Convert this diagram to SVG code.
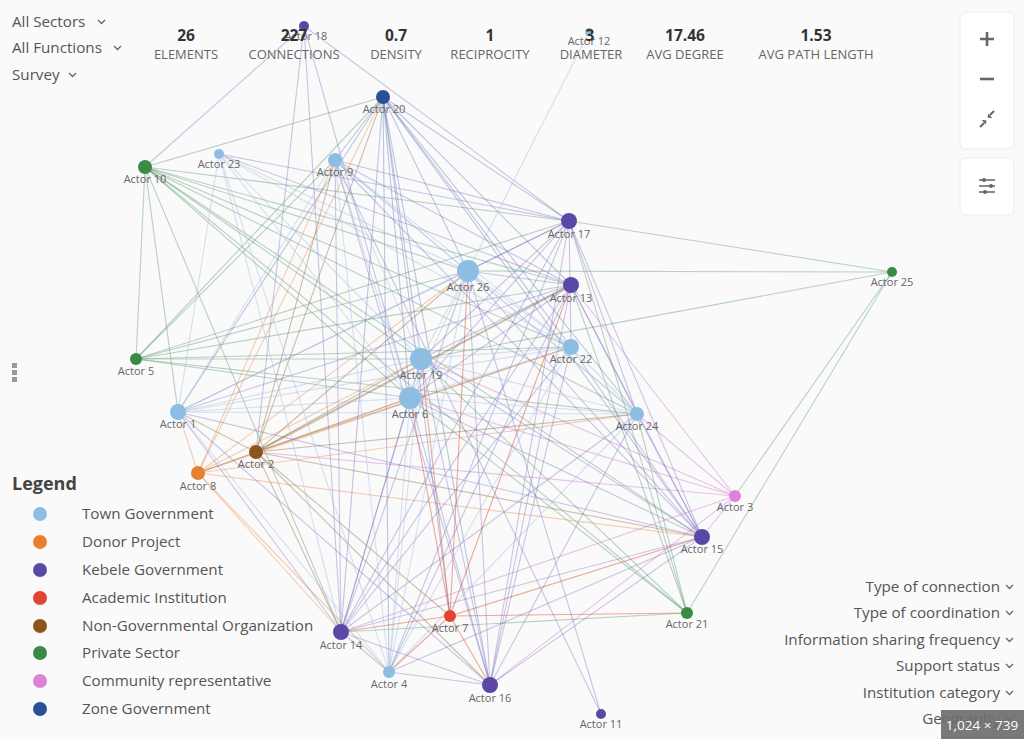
<svg xmlns="http://www.w3.org/2000/svg" width="1024" height="739" viewBox="0 0 1024 739">
<style>
.ui{font-family:"Open Sans","Liberation Sans",sans-serif;fill:#555}
.menu{font-size:15.2px}
.num{font-family:"Open Sans","Liberation Sans",sans-serif;font-size:15.5px;font-weight:700;fill:#333;text-anchor:middle}
.lbl{font-family:"Open Sans","Liberation Sans",sans-serif;font-size:13px;fill:#666;text-anchor:middle}
.nl{font-family:"Open Sans","Liberation Sans",sans-serif;font-size:11px;fill:#666;text-anchor:middle}
.chev{fill:none;stroke:#666;stroke-width:1.3}
#edges line{stroke-width:1.1;fill:none}
.tg{stroke:#a6bedf;stroke-opacity:.45}
.kg{stroke:#6b60b6;stroke-opacity:.35}
.ps{stroke:#4a9160;stroke-opacity:.38}
.dp{stroke:#e68a4a;stroke-opacity:.4}
.ngo{stroke:#8d6535;stroke-opacity:.4}
.ac{stroke:#e0553c;stroke-opacity:.5}
.cr{stroke:#d98ad9;stroke-opacity:.5}
.zg{stroke:#4a62a8;stroke-opacity:.35}
.c-tg{fill:#8dbde3}.c-dp{fill:#e8802f}.c-kg{fill:#5a48a6}.c-ac{fill:#e2452f}
.c-ngo{fill:#8a561d}.c-ps{fill:#3a8a48}.c-cr{fill:#dd82d8}.c-zg{fill:#2a4f98}
.box{fill:#fff;stroke:#ececec;stroke-width:1}
.ic{stroke:#666;stroke-width:2.6;fill:none;stroke-linecap:butt}
</style>
<rect width="1024" height="739" fill="#fafafa"/>
<g id="edges">
<!-- Actor 10 -->
<line class="ps" x1="145" y1="167" x2="136" y2="359"/>
<line class="ps" x1="145" y1="167" x2="178" y2="412"/>
<line class="ps" x1="145" y1="167" x2="383" y2="97"/>
<line class="ps" x1="145" y1="167" x2="569" y2="221"/>
<line class="ps" x1="145" y1="167" x2="571" y2="285"/>
<line class="ps" x1="145" y1="167" x2="571" y2="347"/>
<line class="ps" x1="145" y1="167" x2="468" y2="271"/>
<line class="ps" x1="145" y1="167" x2="421" y2="359"/>
<line class="ps" x1="145" y1="167" x2="637" y2="414"/>
<line class="ps" x1="145" y1="167" x2="702" y2="537"/>
<line class="ps" x1="145" y1="167" x2="687" y2="613"/>
<line class="ps" x1="145" y1="167" x2="341" y2="632"/>
<line class="ps" x1="145" y1="167" x2="410" y2="398"/>
<line class="kg" x1="304" y1="26" x2="145" y2="167"/>
<!-- Actor 5 -->
<line class="ps" x1="136" y1="359" x2="383" y2="97"/>
<line class="ps" x1="136" y1="359" x2="335" y2="160"/>
<line class="ps" x1="136" y1="359" x2="468" y2="271"/>
<line class="ps" x1="136" y1="359" x2="571" y2="285"/>
<line class="ps" x1="136" y1="359" x2="421" y2="359"/>
<line class="ps" x1="136" y1="359" x2="571" y2="347"/>
<line class="ps" x1="136" y1="359" x2="410" y2="398"/>
<line class="ps" x1="136" y1="359" x2="637" y2="414"/>
<line class="ps" x1="136" y1="359" x2="569" y2="221"/>
<!-- Actor 25 / 21 -->
<line class="ps" x1="892" y1="272" x2="569" y2="221"/>
<line class="ps" x1="892" y1="272" x2="468" y2="271"/>
<line class="ps" x1="892" y1="272" x2="735" y2="496"/>
<line class="ps" x1="892" y1="272" x2="687" y2="613"/>
<line class="ps" x1="892" y1="272" x2="421" y2="359"/>
<line class="ps" x1="687" y1="613" x2="571" y2="285"/>
<line class="ps" x1="687" y1="613" x2="410" y2="398"/>
<line class="ps" x1="687" y1="613" x2="421" y2="359"/>
<line class="ps" x1="687" y1="613" x2="569" y2="221"/>
<line class="ps" x1="687" y1="613" x2="637" y2="414"/>
<line class="ps" x1="687" y1="613" x2="341" y2="632"/>
<!-- Actor 3 -->
<line class="cr" x1="735" y1="496" x2="637" y2="414"/>
<line class="cr" x1="735" y1="496" x2="571" y2="285"/>
<line class="cr" x1="735" y1="496" x2="410" y2="398"/>
<line class="cr" x1="735" y1="496" x2="421" y2="359"/>
<line class="cr" x1="735" y1="496" x2="702" y2="537"/>
<line class="cr" x1="735" y1="496" x2="341" y2="632"/>
<line class="cr" x1="735" y1="496" x2="256" y2="452"/>
<line class="cr" x1="735" y1="496" x2="490" y2="685"/>
<!-- Actor 7 -->
<line class="ac" x1="450" y1="616" x2="410" y2="398"/>
<line class="ac" x1="450" y1="616" x2="421" y2="359"/>
<line class="ac" x1="450" y1="616" x2="468" y2="271"/>
<line class="ac" x1="450" y1="616" x2="571" y2="285"/>
<line class="ac" x1="450" y1="616" x2="490" y2="685"/>
<line class="ac" x1="450" y1="616" x2="341" y2="632"/>
<line class="ac" x1="450" y1="616" x2="389" y2="672"/>
<line class="ac" x1="450" y1="616" x2="702" y2="537"/>
<line class="ac" x1="450" y1="616" x2="687" y2="613"/>
<!-- Actor 2 -->
<line class="ngo" x1="256" y1="452" x2="571" y2="285" style="stroke-width:2"/>
<line class="ngo" x1="256" y1="452" x2="468" y2="271"/>
<line class="ngo" x1="256" y1="452" x2="421" y2="359"/>
<line class="ngo" x1="256" y1="452" x2="410" y2="398"/>
<line class="ngo" x1="256" y1="452" x2="335" y2="160"/>
<line class="ngo" x1="256" y1="452" x2="383" y2="97"/>
<line class="ngo" x1="256" y1="452" x2="341" y2="632"/>
<line class="ngo" x1="256" y1="452" x2="490" y2="685"/>
<line class="ngo" x1="256" y1="452" x2="450" y2="616"/>
<line class="ngo" x1="256" y1="452" x2="571" y2="347"/>
<line class="ngo" x1="256" y1="452" x2="637" y2="414"/>
<line class="ngo" x1="256" y1="452" x2="702" y2="537"/>
<line class="ngo" x1="256" y1="452" x2="198" y2="473"/>
<line class="ngo" x1="256" y1="452" x2="178" y2="412"/>
<line class="kg" x1="304" y1="26" x2="256" y2="452"/>
<!-- Actor 8 -->
<line class="dp" x1="198" y1="473" x2="383" y2="97"/>
<line class="dp" x1="198" y1="473" x2="335" y2="160"/>
<line class="dp" x1="198" y1="473" x2="468" y2="271"/>
<line class="dp" x1="198" y1="473" x2="421" y2="359"/>
<line class="dp" x1="198" y1="473" x2="410" y2="398"/>
<line class="dp" x1="198" y1="473" x2="178" y2="412"/>
<line class="dp" x1="198" y1="473" x2="341" y2="632"/>
<line class="dp" x1="198" y1="473" x2="389" y2="672"/>
<line class="dp" x1="198" y1="473" x2="571" y2="347"/>
<line class="dp" x1="198" y1="473" x2="702" y2="537"/>
<line class="dp" x1="198" y1="473" x2="637" y2="414"/>
<!-- Actor 20 -->
<line class="zg" x1="383" y1="97" x2="569" y2="221"/>
<line class="zg" x1="383" y1="97" x2="571" y2="285"/>
<line class="zg" x1="383" y1="97" x2="571" y2="347"/>
<line class="zg" x1="383" y1="97" x2="468" y2="271"/>
<line class="zg" x1="383" y1="97" x2="421" y2="359"/>
<line class="zg" x1="383" y1="97" x2="410" y2="398"/>
<line class="zg" x1="383" y1="97" x2="178" y2="412"/>
<line class="zg" x1="383" y1="97" x2="341" y2="632"/>
<line class="zg" x1="383" y1="97" x2="490" y2="685"/>
<line class="zg" x1="383" y1="97" x2="702" y2="537"/>
<line class="zg" x1="383" y1="97" x2="637" y2="414"/>
<line class="zg" x1="383" y1="97" x2="335" y2="160"/>
<line class="zg" x1="383" y1="97" x2="389" y2="672"/>
<line class="zg" x1="383" y1="97" x2="450" y2="616"/>
<!-- Actor 17 -->
<line class="kg" x1="569" y1="221" x2="304" y2="26"/>
<line class="kg" x1="569" y1="221" x2="335" y2="160"/>
<line class="kg" x1="569" y1="221" x2="702" y2="537"/>
<line class="kg" x1="569" y1="221" x2="490" y2="685"/>
<line class="kg" x1="569" y1="221" x2="341" y2="632"/>
<line class="kg" x1="569" y1="221" x2="178" y2="412"/>
<line class="kg" x1="569" y1="221" x2="421" y2="359"/>
<line class="kg" x1="569" y1="221" x2="410" y2="398"/>
<line class="kg" x1="569" y1="221" x2="637" y2="414"/>
<line class="kg" x1="569" y1="221" x2="389" y2="672"/>
<line class="kg" x1="569" y1="221" x2="468" y2="271"/>
<line class="kg" x1="569" y1="221" x2="571" y2="347"/>
<line class="kg" x1="569" y1="221" x2="219" y2="154"/>
<!-- Actor 13 -->
<line class="kg" x1="571" y1="285" x2="341" y2="632"/>
<line class="kg" x1="571" y1="285" x2="490" y2="685"/>
<line class="kg" x1="571" y1="285" x2="702" y2="537"/>
<line class="kg" x1="571" y1="285" x2="335" y2="160"/>
<line class="kg" x1="571" y1="285" x2="468" y2="271"/>
<line class="kg" x1="571" y1="285" x2="410" y2="398"/>
<line class="kg" x1="571" y1="285" x2="421" y2="359"/>
<line class="kg" x1="571" y1="285" x2="389" y2="672"/>
<line class="kg" x1="571" y1="285" x2="178" y2="412"/>
<line class="kg" x1="571" y1="285" x2="637" y2="414"/>
<line class="kg" x1="571" y1="285" x2="219" y2="154"/>
<!-- Actor 15 -->
<line class="kg" x1="702" y1="537" x2="341" y2="632"/>
<line class="kg" x1="702" y1="537" x2="490" y2="685"/>
<line class="kg" x1="702" y1="537" x2="410" y2="398"/>
<line class="kg" x1="702" y1="537" x2="421" y2="359"/>
<line class="kg" x1="702" y1="537" x2="468" y2="271"/>
<line class="kg" x1="702" y1="537" x2="571" y2="347"/>
<line class="kg" x1="702" y1="537" x2="637" y2="414"/>
<line class="kg" x1="702" y1="537" x2="335" y2="160"/>
<line class="kg" x1="702" y1="537" x2="178" y2="412"/>
<line class="kg" x1="702" y1="537" x2="389" y2="672"/>
<!-- Actor 16 -->
<line class="kg" x1="490" y1="685" x2="341" y2="632"/>
<line class="kg" x1="490" y1="685" x2="389" y2="672"/>
<line class="kg" x1="490" y1="685" x2="410" y2="398"/>
<line class="kg" x1="490" y1="685" x2="421" y2="359"/>
<line class="kg" x1="490" y1="685" x2="468" y2="271"/>
<line class="kg" x1="490" y1="685" x2="571" y2="347"/>
<line class="kg" x1="490" y1="685" x2="335" y2="160"/>
<line class="kg" x1="490" y1="685" x2="637" y2="414"/>
<line class="kg" x1="490" y1="685" x2="178" y2="412"/>
<!-- Actor 14 -->
<line class="kg" x1="341" y1="632" x2="178" y2="412"/>
<line class="kg" x1="341" y1="632" x2="410" y2="398"/>
<line class="kg" x1="341" y1="632" x2="421" y2="359"/>
<line class="kg" x1="341" y1="632" x2="468" y2="271"/>
<line class="kg" x1="341" y1="632" x2="335" y2="160"/>
<line class="kg" x1="341" y1="632" x2="571" y2="347"/>
<line class="kg" x1="341" y1="632" x2="389" y2="672"/>
<line class="kg" x1="341" y1="632" x2="637" y2="414"/>
<!-- Actor 11 / 18 / 12 -->
<line class="kg" x1="601" y1="714" x2="335" y2="160"/>
<line class="kg" x1="601" y1="714" x2="468" y2="271"/>
<line class="kg" x1="304" y1="26" x2="410" y2="398"/>
<line class="kg" x1="304" y1="26" x2="341" y2="632"/>
<line class="tg" x1="589" y1="32" x2="468" y2="271"/>
<!-- Town government -->
<line class="tg" x1="335" y1="160" x2="468" y2="271"/>
<line class="tg" x1="335" y1="160" x2="421" y2="359"/>
<line class="tg" x1="335" y1="160" x2="410" y2="398"/>
<line class="tg" x1="335" y1="160" x2="571" y2="347"/>
<line class="tg" x1="335" y1="160" x2="637" y2="414"/>
<line class="tg" x1="335" y1="160" x2="178" y2="412"/>
<line class="tg" x1="335" y1="160" x2="389" y2="672"/>
<line class="tg" x1="219" y1="154" x2="468" y2="271"/>
<line class="tg" x1="219" y1="154" x2="421" y2="359"/>
<line class="tg" x1="219" y1="154" x2="410" y2="398"/>
<line class="tg" x1="219" y1="154" x2="571" y2="347"/>
<line class="tg" x1="219" y1="154" x2="178" y2="412"/>
<line class="tg" x1="219" y1="154" x2="389" y2="672"/>
<line class="tg" x1="219" y1="154" x2="341" y2="632"/>
<line class="tg" x1="468" y1="271" x2="421" y2="359"/>
<line class="tg" x1="468" y1="271" x2="410" y2="398"/>
<line class="tg" x1="468" y1="271" x2="571" y2="347"/>
<line class="tg" x1="468" y1="271" x2="637" y2="414"/>
<line class="tg" x1="468" y1="271" x2="178" y2="412"/>
<line class="tg" x1="468" y1="271" x2="389" y2="672"/>
<line class="tg" x1="421" y1="359" x2="410" y2="398"/>
<line class="tg" x1="421" y1="359" x2="571" y2="347"/>
<line class="tg" x1="421" y1="359" x2="637" y2="414"/>
<line class="tg" x1="421" y1="359" x2="178" y2="412"/>
<line class="tg" x1="421" y1="359" x2="389" y2="672"/>
<line class="tg" x1="410" y1="398" x2="571" y2="347"/>
<line class="tg" x1="410" y1="398" x2="637" y2="414"/>
<line class="tg" x1="410" y1="398" x2="178" y2="412"/>
<line class="tg" x1="410" y1="398" x2="389" y2="672"/>
<line class="tg" x1="178" y1="412" x2="571" y2="347"/>
<line class="tg" x1="178" y1="412" x2="637" y2="414"/>
<line class="tg" x1="178" y1="412" x2="389" y2="672"/>
<line class="tg" x1="571" y1="347" x2="637" y2="414"/>
<line class="tg" x1="571" y1="347" x2="389" y2="672"/>
<line class="tg" x1="637" y1="414" x2="389" y2="672"/>
</g>
<g id="actor-18"><circle class="c-kg" cx="304" cy="26" r="5"/><text class="nl" x="306" y="40">Actor 18</text></g>
<g id="actor-12"><circle class="c-tg" cx="589" cy="32" r="4"/><text class="nl" x="589" y="45">Actor 12</text></g>
<g id="actor-20"><circle class="c-zg" cx="383" cy="97" r="7"/><text class="nl" x="384" y="113">Actor 20</text></g>
<g id="actor-23"><circle class="c-tg" cx="219" cy="154" r="5"/><text class="nl" x="219" y="168">Actor 23</text></g>
<g id="actor-9"><circle class="c-tg" cx="335" cy="160" r="7"/><text class="nl" x="335" y="176">Actor 9</text></g>
<g id="actor-10"><circle class="c-ps" cx="145" cy="167" r="7"/><text class="nl" x="145" y="183">Actor 10</text></g>
<g id="actor-17"><circle class="c-kg" cx="569" cy="221" r="8"/><text class="nl" x="569" y="238">Actor 17</text></g>
<g id="actor-26"><circle class="c-tg" cx="468" cy="271" r="11"/><text class="nl" x="468" y="291">Actor 26</text></g>
<g id="actor-13"><circle class="c-kg" cx="571" cy="285" r="8"/><text class="nl" x="571" y="302">Actor 13</text></g>
<g id="actor-25"><circle class="c-ps" cx="892" cy="272" r="5"/><text class="nl" x="892" y="286">Actor 25</text></g>
<g id="actor-5"><circle class="c-ps" cx="136" cy="359" r="6"/><text class="nl" x="136" y="375">Actor 5</text></g>
<g id="actor-22"><circle class="c-tg" cx="571" cy="347" r="8"/><text class="nl" x="571" y="363">Actor 22</text></g>
<g id="actor-19"><circle class="c-tg" cx="421" cy="359" r="11"/><text class="nl" x="421" y="379">Actor 19</text></g>
<g id="actor-6"><circle class="c-tg" cx="410" cy="398" r="11"/><text class="nl" x="410" y="418">Actor 6</text></g>
<g id="actor-1"><circle class="c-tg" cx="178" cy="412" r="8"/><text class="nl" x="178" y="428">Actor 1</text></g>
<g id="actor-24"><circle class="c-tg" cx="637" cy="414" r="7"/><text class="nl" x="637" y="430">Actor 24</text></g>
<g id="actor-2"><circle class="c-ngo" cx="256" cy="452" r="7"/><text class="nl" x="256" y="468">Actor 2</text></g>
<g id="actor-8"><circle class="c-dp" cx="198" cy="473" r="7"/><text class="nl" x="198" y="490">Actor 8</text></g>
<g id="actor-3"><circle class="c-cr" cx="735" cy="496" r="6"/><text class="nl" x="735" y="511">Actor 3</text></g>
<g id="actor-15"><circle class="c-kg" cx="702" cy="537" r="8"/><text class="nl" x="702" y="553">Actor 15</text></g>
<g id="actor-21"><circle class="c-ps" cx="687" cy="613" r="6"/><text class="nl" x="687" y="628">Actor 21</text></g>
<g id="actor-7"><circle class="c-ac" cx="450" cy="616" r="6"/><text class="nl" x="450" y="632">Actor 7</text></g>
<g id="actor-14"><circle class="c-kg" cx="341" cy="632" r="8"/><text class="nl" x="341" y="649">Actor 14</text></g>
<g id="actor-4"><circle class="c-tg" cx="389" cy="672" r="6"/><text class="nl" x="389" y="688">Actor 4</text></g>
<g id="actor-16"><circle class="c-kg" cx="490" cy="685" r="8"/><text class="nl" x="490" y="702">Actor 16</text></g>
<g id="actor-11"><circle class="c-kg" cx="601" cy="714" r="5"/><text class="nl" x="601" y="728">Actor 11</text></g>

<g id="filters">
<text class="ui menu" x="12" y="27">All Sectors</text><path class="chev" d="M98 20l3.5 3.5 3.5-3.5"/>
<text class="ui menu" x="12" y="53">All Functions</text><path class="chev" d="M114 46l3.5 3.5 3.5-3.5"/>
<text class="ui menu" x="12" y="80">Survey</text><path class="chev" d="M69 73l3.5 3.5 3.5-3.5"/>
</g>
<g id="stats">
<text class="num" x="186" y="41">26</text><text class="lbl" x="186" y="59">ELEMENTS</text>
<text class="num" x="294" y="41">227</text><text class="lbl" x="294" y="59">CONNECTIONS</text>
<text class="num" x="396" y="41">0.7</text><text class="lbl" x="396" y="59">DENSITY</text>
<text class="num" x="490" y="41">1</text><text class="lbl" x="490" y="59">RECIPROCITY</text>
<text class="num" x="590" y="41">3</text><text class="lbl" x="591" y="59">DIAMETER</text>
<text class="num" x="685" y="41">17.46</text><text class="lbl" x="685" y="59">AVG DEGREE</text>
<text class="num" x="816" y="41">1.53</text><text class="lbl" x="816" y="59">AVG PATH LENGTH</text>
</g>
<g id="zoom-controls">
<rect class="box" x="960" y="12" width="54" height="137" rx="6"/>
<path class="ic" d="M980 39h14M987 32v14"/>
<path class="ic" d="M980 79h14"/>
<g stroke="#666" stroke-width="2" fill="#666">
<path d="M980 127l4-4"/><path d="M994 111l-4 4"/>
<polygon points="986.5,120.5 981.5,119.8 985.8,124.5" stroke="none"/>
<polygon points="987.5,117.5 992.5,118.2 988.2,113.5" stroke="none"/>
</g>
<rect class="box" x="960" y="158" width="54" height="57" rx="6"/>
<path d="M979 180h16M979 186h16M979 192h16" stroke="#666" stroke-width="1.4"/>
<circle cx="984" cy="180" r="2" fill="#666"/><circle cx="991" cy="186" r="2" fill="#666"/><circle cx="985" cy="192" r="2" fill="#666"/>
</g>
<g id="handle" fill="#999">
<rect x="12" y="363" width="5" height="5"/><rect x="12" y="370" width="5" height="5"/><rect x="12" y="377" width="5" height="5"/>
</g>
<g id="legend">
<text x="12" y="490" style="font-family:'Open Sans','Liberation Sans',sans-serif;font-size:18px;font-weight:700;fill:#444">Legend</text>
<circle class="c-tg" cx="40" cy="514" r="7"/><text class="ui menu" x="82" y="519">Town Government</text>
<circle class="c-dp" cx="40" cy="542" r="7"/><text class="ui menu" x="82" y="547">Donor Project</text>
<circle class="c-kg" cx="40" cy="570" r="7"/><text class="ui menu" x="82" y="575">Kebele Government</text>
<circle class="c-ac" cx="40" cy="598" r="7"/><text class="ui menu" x="82" y="603">Academic Institution</text>
<circle class="c-ngo" cx="40" cy="626" r="7"/><text class="ui menu" x="82" y="631">Non-Governmental Organization</text>
<circle class="c-ps" cx="40" cy="653" r="7"/><text class="ui menu" x="82" y="658">Private Sector</text>
<circle class="c-cr" cx="40" cy="681" r="7"/><text class="ui menu" x="82" y="686">Community representative</text>
<circle class="c-zg" cx="40" cy="709" r="7"/><text class="ui menu" x="82" y="714">Zone Government</text>
</g>
<g id="edge-filters" text-anchor="end">
<text class="ui menu" x="1000" y="592">Type of connection</text><path class="chev" d="M1006 585l3.5 3.5 3.5-3.5"/>
<text class="ui menu" x="1000" y="618">Type of coordination</text><path class="chev" d="M1006 611l3.5 3.5 3.5-3.5"/>
<text class="ui menu" x="1000" y="645">Information sharing frequency</text><path class="chev" d="M1006 638l3.5 3.5 3.5-3.5"/>
<text class="ui menu" x="1000" y="671">Support status</text><path class="chev" d="M1006 664l3.5 3.5 3.5-3.5"/>
<text class="ui menu" x="1000" y="698">Institution category</text><path class="chev" d="M1006 691l3.5 3.5 3.5-3.5"/>
<text class="ui menu" x="1000" y="724">Geography</text><path class="chev" d="M1006 717l3.5 3.5 3.5-3.5"/>
</g>
<g id="size-badge">
<rect x="941" y="710" width="83" height="29" fill="#6e6e6e" fill-opacity=".92"/>
<text x="982" y="730" text-anchor="middle" style="font-family:'Open Sans','Liberation Sans',sans-serif;font-size:13.5px;fill:#fff">1,024 × 739</text>
</g>
</svg>
